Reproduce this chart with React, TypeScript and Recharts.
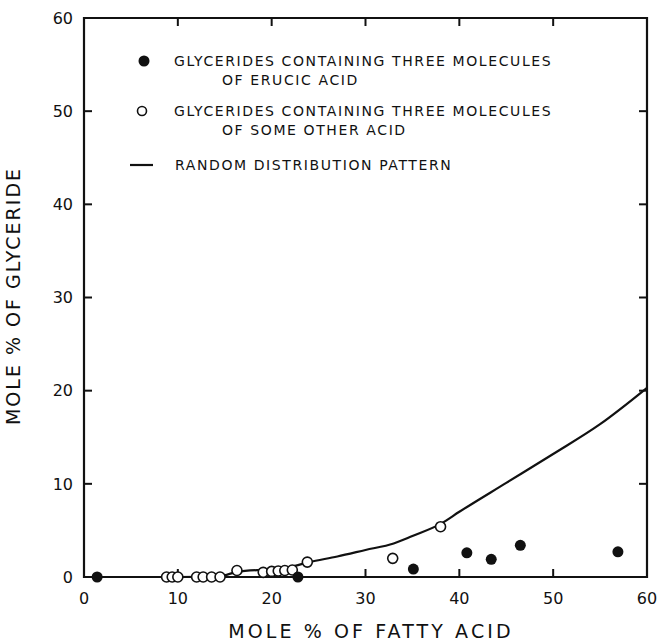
import { ComposedChart, Line, Scatter, XAxis, YAxis, ReferenceArea } from 'recharts';

// Random distribution curve (mole % of glyceride vs mole % of fatty acid)
const curveX = [0, 10, 14.5, 16.3, 20, 22, 24, 27, 30, 33, 35, 38, 40, 45, 50, 55, 60];
const curveY = [0, 0, 0.1, 0.55, 0.85, 1.1, 1.6, 2.2, 2.9, 3.6, 4.4, 5.7, 7.0, 10.1, 13.2, 16.4, 20.3];

// Glycerides with three molecules of erucic acid (filled dots)
const erucicX = [1.4, 22.8, 35.1, 40.8, 43.4, 46.5, 56.9];
const erucicY = [0, 0, 0.85, 2.6, 1.9, 3.4, 2.7];

// Glycerides with three molecules of some other acid (open circles)
const otherX = [8.8, 9.4, 10.0, 12.0, 12.7, 13.6, 14.5, 16.3, 19.1, 20.0, 20.7, 21.4, 22.2, 23.8, 32.9, 38.0];
const otherY = [0, 0, 0, 0, 0, 0, 0, 0.7, 0.5, 0.6, 0.65, 0.7, 0.75, 1.6, 2.0, 5.4];

const xTicks = [0, 10, 20, 30, 40, 50, 60];
const yTicks = [0, 10, 20, 30, 40, 50, 60];

const curveData = curveX.map((x, i) => ({ x, y: curveY[i] }));
const erucicData = erucicX.map((x, i) => ({ x, y: erucicY[i] }));
const otherData = otherX.map((x, i) => ({ x, y: otherY[i] }));

const FONT = '"DejaVu Sans", sans-serif';
const INK = '#111';
const TICK = 8;
const tickLine = { stroke: INK, strokeWidth: 2 };

// tick lines come from recharts (negative tickSize points them inwards); labels placed here
const BottomLabel = (props: any) => {
  const { x, y, payload } = props;
  return (
    <text x={x} y={y + TICK + 27} textAnchor="middle" fontFamily={FONT} fontSize={16} fill={INK}>
      {payload.value}
    </text>
  );
};

const LeftLabel = (props: any) => {
  const { x, y, payload } = props;
  return (
    <text x={x - TICK - 11} y={y} dy="0.36em" textAnchor="end" fontFamily={FONT} fontSize={16} fill={INK}>
      {payload.value}
    </text>
  );
};

const NoLabel = () => <g />;

const XTitle = () => (
  <text x={371} y={638} textAnchor="middle" fontFamily={FONT} fontSize={19} letterSpacing={3.1} fill={INK}>
    MOLE % OF FATTY ACID
  </text>
);

const YTitle = () => (
  <text
    x={20}
    y={296}
    transform="rotate(-90 20 296)"
    textAnchor="middle"
    fontFamily={FONT}
    fontSize={19}
    letterSpacing={2}
    fill={INK}
  >
    MOLE %  OF GLYCERIDE
  </text>
);

const OpenDot = (p: any) => <circle cx={p.cx} cy={p.cy} r={5} fill="#fff" stroke={INK} strokeWidth={1.6} />;
const FilledDot = (p: any) => <circle cx={p.cx} cy={p.cy} r={5.5} fill={INK} />;
const NoDot = () => <g />;

const legendText: React.CSSProperties = {
  position: 'absolute',
  fontFamily: FONT,
  fontSize: 14,
  letterSpacing: 1.6,
  color: INK,
  whiteSpace: 'nowrap',
  lineHeight: '16px',
};

export default function App() {
  return (
    <div style={{ position: 'absolute', left: 0, top: 0, width: 658, height: 642, background: '#fff' }}>
      <ComposedChart width={658} height={642} margin={{ top: 17, right: 10, bottom: 25, left: 0 }}>
        <XAxis
          dataKey="x"
          type="number"
          domain={[0, 60]}
          ticks={xTicks}
          height={40}
          tickSize={-TICK}
          tickMargin={0}
          tickLine={tickLine}
          tick={<BottomLabel />}
          axisLine={false}
          label={<XTitle />}
        />
        <XAxis
          xAxisId="top"
          orientation="top"
          dataKey="x"
          type="number"
          domain={[0, 60]}
          ticks={xTicks}
          height={1}
          tickSize={-TICK}
          tickMargin={0}
          tickLine={tickLine}
          tick={<NoLabel />}
          axisLine={false}
        />
        <YAxis
          type="number"
          domain={[0, 60]}
          ticks={yTicks}
          width={84}
          tickSize={-TICK}
          tickMargin={0}
          tickLine={tickLine}
          tick={<LeftLabel />}
          axisLine={false}
          label={<YTitle />}
        />
        <YAxis
          yAxisId="right"
          orientation="right"
          type="number"
          domain={[0, 60]}
          ticks={yTicks}
          width={1}
          tickSize={-TICK}
          tickMargin={0}
          tickLine={tickLine}
          tick={<NoLabel />}
          axisLine={false}
        />
        <ReferenceArea x1={0} x2={60} y1={0} y2={60} fill="none" stroke={INK} strokeWidth={2.2} fillOpacity={0} />
        {/* hidden series so the top and right axes get their ticks */}
        <Scatter
          data={curveData}
          dataKey="y"
          xAxisId="top"
          yAxisId="right"
          shape={<NoDot />}
          isAnimationActive={false}
        />
        <Line
          data={curveData}
          dataKey="y"
          type="monotone"
          stroke={INK}
          strokeWidth={2.2}
          dot={false}
          activeDot={false}
          isAnimationActive={false}
        />
        <Scatter data={otherData} dataKey="y" shape={<OpenDot />} isAnimationActive={false} />
        <Scatter data={erucicData} dataKey="y" shape={<FilledDot />} isAnimationActive={false} />
      </ComposedChart>

      {/* legend */}
      <svg style={{ position: 'absolute', left: 0, top: 0 }} width={658} height={200} pointerEvents="none">
        <circle cx={144} cy={61} r={5.5} fill={INK} />
        <circle cx={142} cy={111} r={4.5} fill="#fff" stroke={INK} strokeWidth={1.6} />
        <line x1={130} y1={165} x2={153} y2={165} stroke={INK} strokeWidth={2.2} />
      </svg>
      <div style={{ ...legendText, left: 174, top: 53 }}>GLYCERIDES CONTAINING THREE MOLECULES</div>
      <div style={{ ...legendText, left: 222, top: 72 }}>OF ERUCIC ACID</div>
      <div style={{ ...legendText, left: 174, top: 103 }}>GLYCERIDES CONTAINING THREE MOLECULES</div>
      <div style={{ ...legendText, left: 222, top: 122 }}>OF SOME OTHER ACID</div>
      <div style={{ ...legendText, left: 175, top: 157 }}>RANDOM DISTRIBUTION PATTERN</div>
    </div>
  );
}
